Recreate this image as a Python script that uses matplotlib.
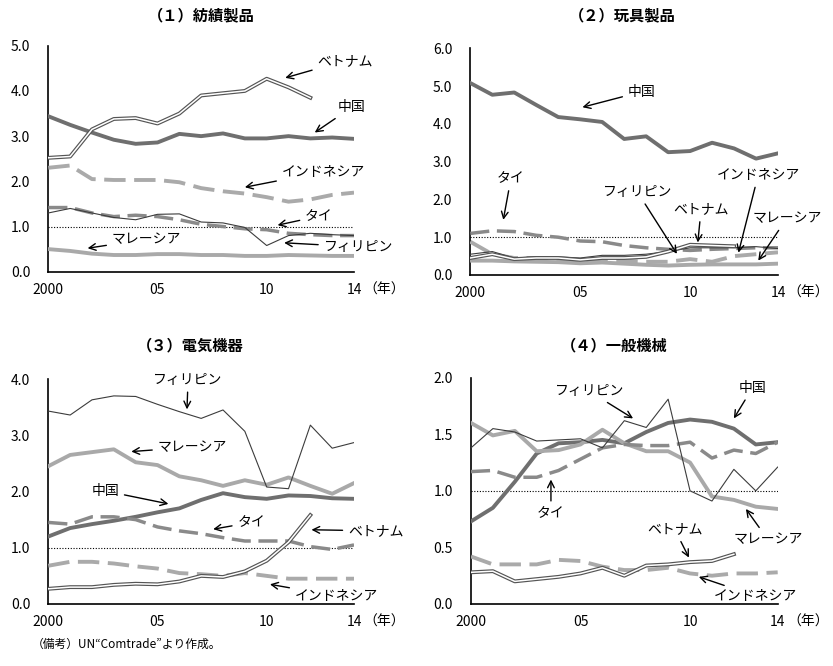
import matplotlib
matplotlib.use('Agg')
from matplotlib import pyplot as plt
import matplotlib.patheffects as pe

plt.rcParams['font.family'] = ['Noto Sans CJK JP', 'DejaVu Sans']

years = list(range(2000, 2015))
years_vn = list(range(2000, 2013))

# （１）紡績製品
textile_china = [3.44, 3.25, 3.08, 2.92, 2.83, 2.86, 3.05, 3.00, 3.06, 2.95, 2.95, 3.00, 2.95, 2.97, 2.94]
textile_malaysia = [0.50, 0.46, 0.40, 0.37, 0.37, 0.39, 0.39, 0.37, 0.37, 0.35, 0.35, 0.37, 0.36, 0.35, 0.35]
textile_indonesia = [2.30, 2.35, 2.05, 2.03, 2.03, 2.03, 1.98, 1.85, 1.78, 1.73, 1.65, 1.55, 1.60, 1.70, 1.75]
textile_thai = [1.42, 1.42, 1.30, 1.22, 1.25, 1.22, 1.15, 1.05, 1.00, 0.95, 0.93, 0.85, 0.82, 0.80, 0.80]
textile_phil = [1.30, 1.40, 1.30, 1.20, 1.15, 1.27, 1.28, 1.10, 1.08, 0.98, 0.58, 0.80, 0.85, 0.82, 0.80]
textile_vietnam = [2.52, 2.55, 3.15, 3.38, 3.40, 3.28, 3.50, 3.90, 3.95, 4.00, 4.27, 4.08, 3.85]

# （２）玩具製品
toy_china = [5.08, 4.77, 4.83, 4.50, 4.18, 4.12, 4.05, 3.60, 3.67, 3.25, 3.28, 3.50, 3.35, 3.08, 3.22]
toy_malaysia = [0.38, 0.38, 0.36, 0.35, 0.34, 0.31, 0.33, 0.30, 0.27, 0.25, 0.27, 0.28, 0.28, 0.28, 0.30]
toy_indonesia = [0.88, 0.55, 0.45, 0.45, 0.42, 0.38, 0.40, 0.38, 0.35, 0.35, 0.42, 0.35, 0.50, 0.55, 0.60]
toy_thai = [1.10, 1.17, 1.15, 1.05, 1.00, 0.90, 0.88, 0.78, 0.72, 0.68, 0.65, 0.68, 0.70, 0.72, 0.72]
toy_phil = [0.55, 0.62, 0.45, 0.48, 0.48, 0.45, 0.52, 0.52, 0.55, 0.62, 0.72, 0.72, 0.72, 0.75, 0.70]
toy_vietnam = [0.45, 0.55, 0.42, 0.45, 0.45, 0.40, 0.45, 0.45, 0.48, 0.62, 0.80, 0.78, 0.76]

# （３）電気機器
elec_china = [1.20, 1.35, 1.42, 1.48, 1.55, 1.63, 1.70, 1.85, 1.97, 1.90, 1.87, 1.93, 1.92, 1.88, 1.87]
elec_malaysia = [2.45, 2.65, 2.70, 2.75, 2.52, 2.47, 2.27, 2.20, 2.10, 2.20, 2.12, 2.25, 2.10, 1.96, 2.15]
elec_indonesia = [0.68, 0.75, 0.75, 0.72, 0.67, 0.63, 0.55, 0.53, 0.50, 0.55, 0.50, 0.45, 0.45, 0.45, 0.45]
elec_thai = [1.45, 1.42, 1.55, 1.55, 1.50, 1.37, 1.30, 1.25, 1.18, 1.12, 1.12, 1.12, 1.02, 0.97, 1.05]
elec_phil = [3.43, 3.36, 3.63, 3.70, 3.69, 3.55, 3.42, 3.30, 3.45, 3.07, 2.08, 2.05, 3.18, 2.77, 2.87]
elec_vietnam = [0.27, 0.30, 0.30, 0.34, 0.36, 0.35, 0.40, 0.50, 0.48, 0.58, 0.77, 1.10, 1.58]

# （４）一般機械
mach_china = [0.73, 0.85, 1.08, 1.33, 1.42, 1.43, 1.45, 1.42, 1.52, 1.60, 1.63, 1.61, 1.55, 1.41, 1.43]
mach_malaysia = [1.60, 1.49, 1.53, 1.35, 1.36, 1.41, 1.54, 1.42, 1.35, 1.35, 1.25, 0.95, 0.92, 0.86, 0.84]
mach_indonesia = [0.42, 0.35, 0.35, 0.35, 0.39, 0.38, 0.33, 0.30, 0.30, 0.32, 0.27, 0.25, 0.27, 0.27, 0.28]
mach_thai = [1.17, 1.18, 1.12, 1.12, 1.18, 1.28, 1.38, 1.41, 1.40, 1.40, 1.43, 1.29, 1.36, 1.33, 1.43]
mach_phil = [1.38, 1.55, 1.52, 1.44, 1.45, 1.46, 1.38, 1.62, 1.56, 1.81, 1.00, 0.91, 1.19, 1.00, 1.21]
mach_vietnam = [0.28, 0.29, 0.20, 0.22, 0.24, 0.27, 0.32, 0.25, 0.34, 0.35, 0.37, 0.38, 0.44]

titles = ['（１）紡績製品', '（２）玩具製品', '（３）電気機器', '（４）一般機械']
ymaxes = [5.0, 6.0, 4.0, 2.0]
ysteps = [1.0, 1.0, 1.0, 0.5]

panels = [
    (textile_china, textile_malaysia, textile_indonesia, textile_thai, textile_phil, textile_vietnam),
    (toy_china, toy_malaysia, toy_indonesia, toy_thai, toy_phil, toy_vietnam),
    (elec_china, elec_malaysia, elec_indonesia, elec_thai, elec_phil, elec_vietnam),
    (mach_china, mach_malaysia, mach_indonesia, mach_thai, mach_phil, mach_vietnam),
]

# ラベル位置（テキスト位置, 矢印の先）
labels = [
    [('ベトナム', (2013.6, 4.67), (2010.85, 4.29)),
     ('中国', (2013.9, 3.64), (2012.2, 3.08)),
     ('インドネシア', (2012.6, 2.21), (2009.0, 1.87)),
     ('タイ', (2012.4, 1.23), (2010.5, 1.03)),
     ('フィリピン', (2014.2, 0.55), (2010.8, 0.64)),
     ('マレーシア', (2004.5, 0.72), (2001.8, 0.52))],
    [('中国', (2007.8, 4.85), (2005.1, 4.44)),
     ('タイ', (2001.85, 2.56), (2001.5, 1.46)),
     ('フィリピン', (2007.6, 2.2), (2009.4, 0.56)),
     ('ベトナム', (2010.5, 1.74), (2010.35, 0.86)),
     ('インドネシア', (2013.1, 2.65), (2012.2, 0.59)),
     ('マレーシア', (2014.4, 1.5), (2013.1, 0.38))],
    [('フィリピン', (2006.4, 3.99), (2006.35, 3.46)),
     ('マレーシア', (2006.6, 2.79), (2003.8, 2.71)),
     ('中国', (2002.6, 2.01), (2005.5, 1.78)),
     ('タイ', (2009.3, 1.45), (2007.55, 1.33)),
     ('ベトナム', (2015.0, 1.30), (2012.05, 1.32)),
     ('インドネシア', (2013.2, 0.14), (2010.15, 0.35))],
    [('フィリピン', (2005.4, 1.88), (2007.4, 1.64)),
     ('中国', (2012.85, 1.91), (2012.0, 1.64)),
     ('タイ', (2003.65, 0.80), (2003.65, 1.10)),
     ('マレーシア', (2013.55, 0.57), (2012.55, 0.84)),
     ('ベトナム', (2009.3, 0.66), (2009.95, 0.41)),
     ('インドネシア', (2013.0, 0.07), (2010.4, 0.24))],
]

positions = [
    [0.058, 0.592, 0.367, 0.3393],
    [0.5646, 0.5871, 0.3694, 0.3404],
    [0.058, 0.0931, 0.367, 0.3378],
    [0.5654, 0.0931, 0.3682, 0.3398],
]
title_xy = [(201, 15), (622, 15), (190, 345), (614, 345)]

fig = plt.figure(figsize=(8.33, 6.66), dpi=100)

for i in range(4):
    china, malaysia, indonesia, thai, phil, vietnam = panels[i]
    ax = fig.add_axes(positions[i])

    ax.plot(years, china, color='#6f6f6f', lw=2.8, zorder=3)
    ax.plot(years, malaysia, color='#a9a9a9', lw=2.8, zorder=3)
    ax.plot(years, indonesia, color='#aaaaaa', lw=2.8, dashes=(5.5, 2.2), zorder=3)
    ax.plot(years, thai, color='#8a8a8a', lw=2.5, dashes=(5.5, 2.2), zorder=3)
    ax.plot(years, phil, color='#3c3c3c', lw=0.8, zorder=4)
    ax.plot(years_vn, vietnam, color='white', lw=1.1, zorder=5,
            path_effects=[pe.Stroke(linewidth=2.8, foreground='#555555'), pe.Normal()])

    ax.axhline(1.0, color='black', lw=0.8, ls=(0, (1, 1.5)), zorder=2)

    ax.set_xlim(2000, 2014)
    ax.set_ylim(0, ymaxes[i])
    yt = [k * ysteps[i] for k in range(int(round(ymaxes[i] / ysteps[i])) + 1)]
    ax.set_yticks(yt)
    ax.set_yticklabels([f'{v:.1f}' for v in yt])
    ax.set_xticks([2000, 2005, 2010, 2014])
    ax.set_xticklabels(['2000', '05', '10', '14'])
    ax.tick_params(axis='both', length=0, labelsize=10)
    ax.tick_params(axis='y', pad=13)
    ax.tick_params(axis='x', pad=8)
    for s in ['top', 'right']:
        ax.spines[s].set_visible(False)
    for s in ['left', 'bottom']:
        ax.spines[s].set_linewidth(1.2)
    ax.annotate('（年）', xy=(1, 0), xycoords='axes fraction', xytext=(7, -8),
                textcoords='offset points', ha='left', va='top', fontsize=10)

    for name, txy, tip in labels[i]:
        ax.annotate(name, xy=tip, xytext=txy, ha='center', va='center', fontsize=10,
                    annotation_clip=False, zorder=6,
                    arrowprops=dict(arrowstyle='->', color='black', lw=1.0,
                                    shrinkA=2, shrinkB=0, mutation_scale=12))

    tx, ty = title_xy[i]
    fig.text(tx / 833, 1 - ty / 666, titles[i], ha='center', va='center',
             fontsize=11, fontweight='bold')

fig.text(32 / 833, 1 - 644 / 666, '（備考）UN“Comtrade”より作成。', ha='left', va='center',
         fontsize=8.5)

fig.savefig('out.png', dpi=100)
